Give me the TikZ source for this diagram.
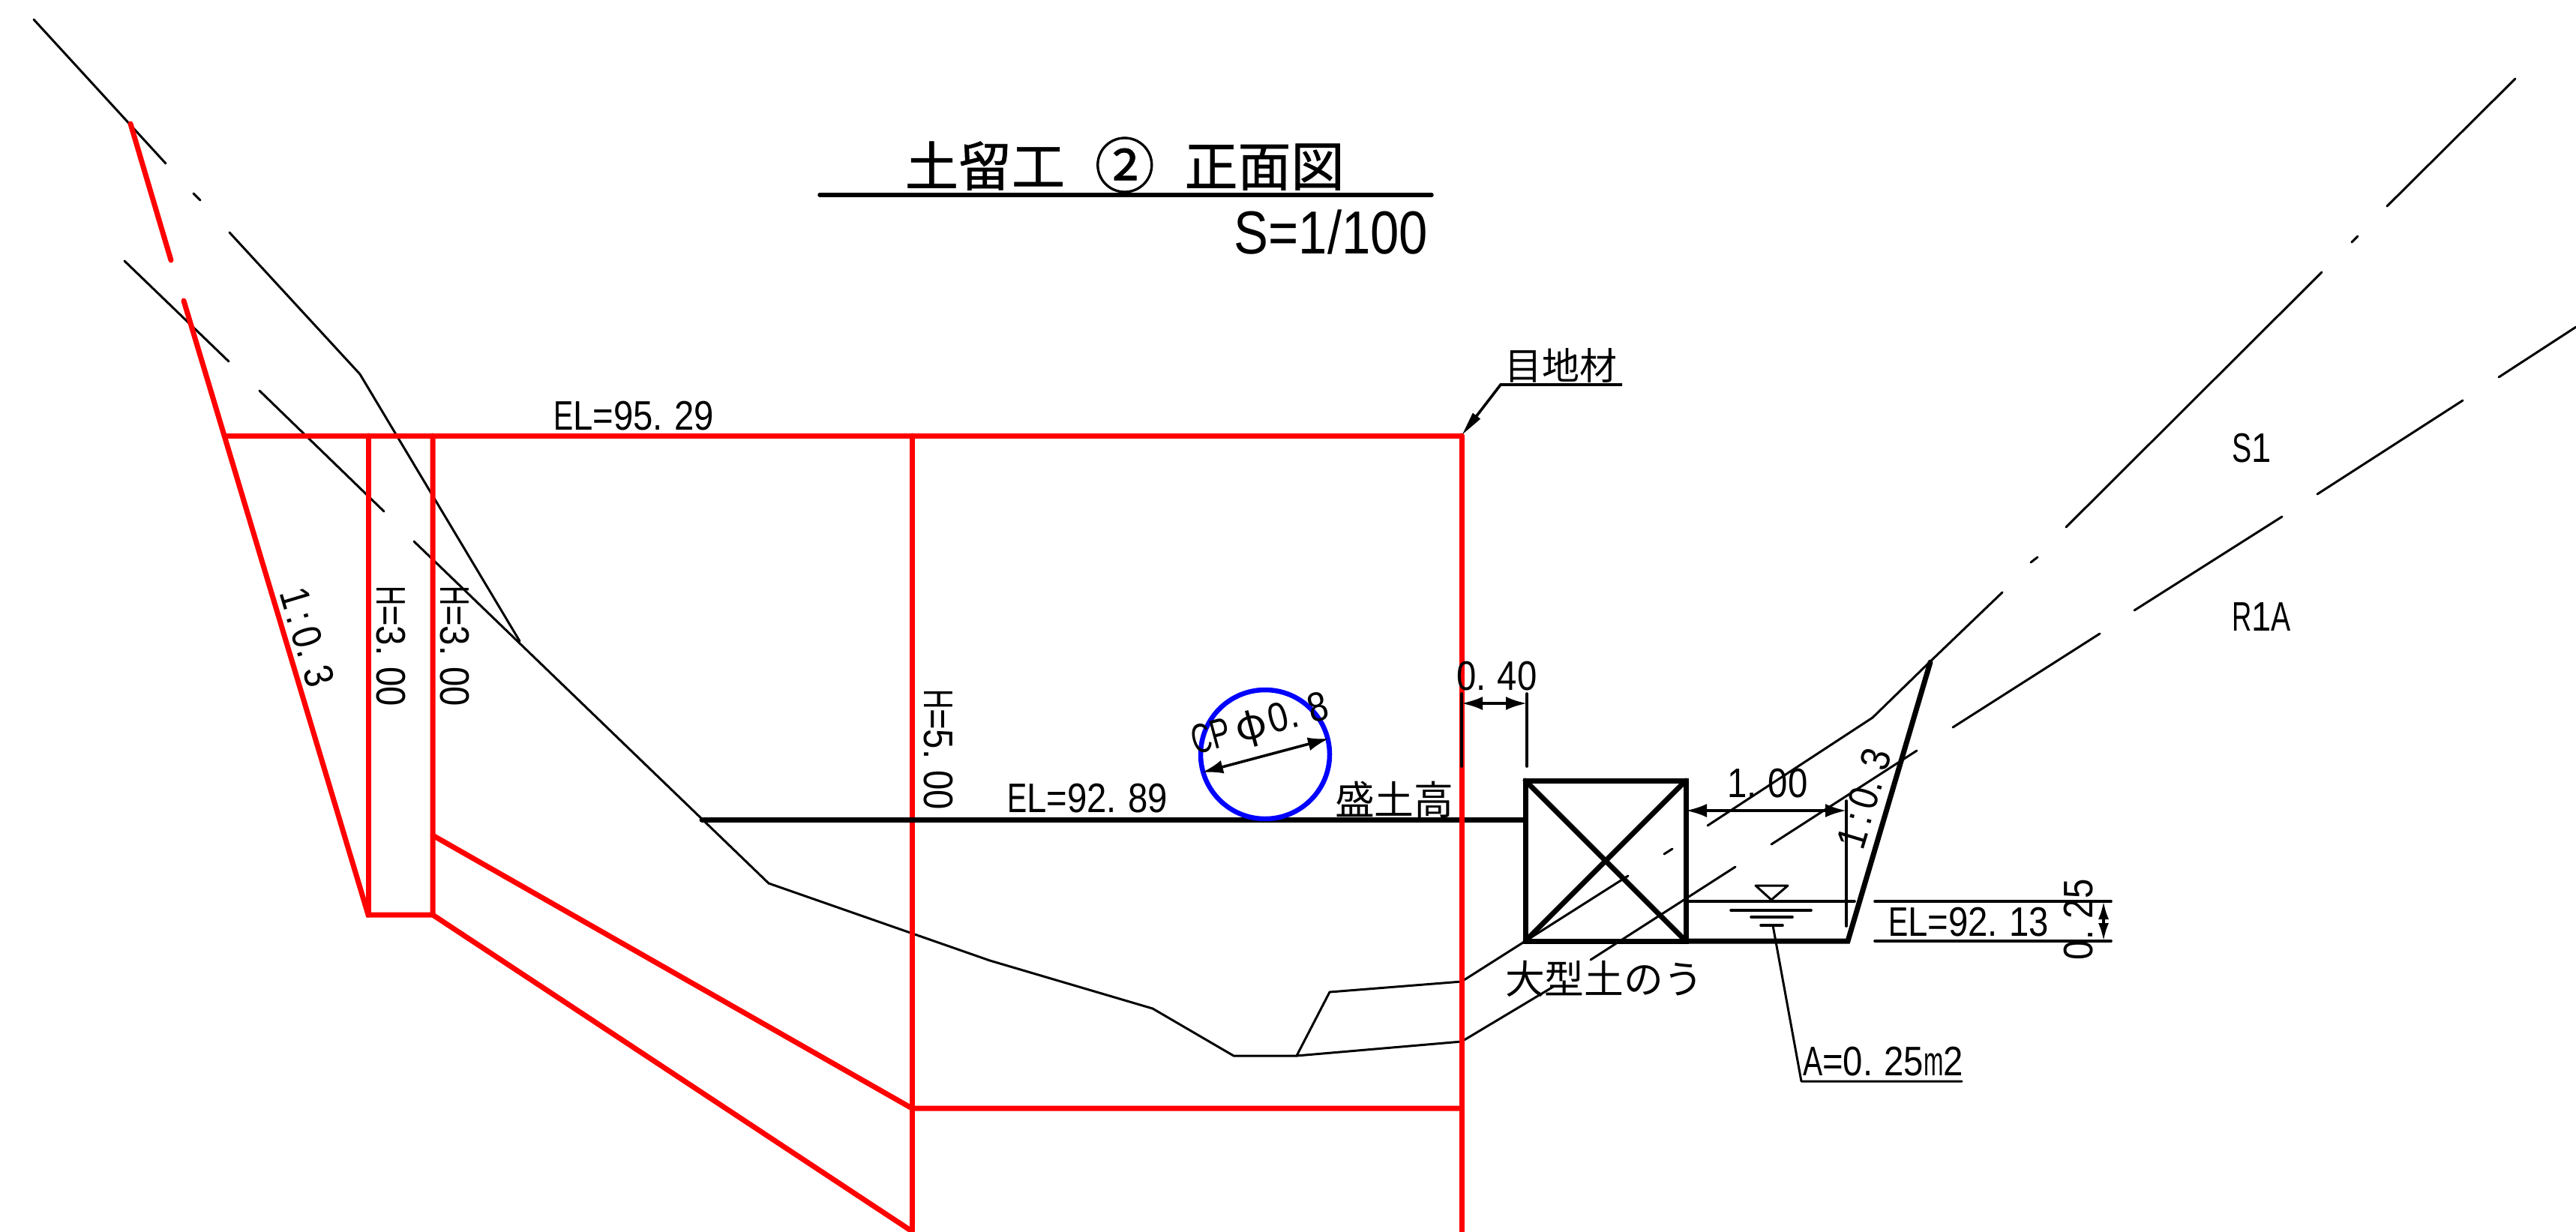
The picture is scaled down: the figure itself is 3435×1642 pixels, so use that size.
\documentclass[tikz,border=0pt]{standalone}
\usepackage{fontspec}
\usepackage{graphicx}
\usepackage{tikz}
\usetikzlibrary{arrows.meta}
\newfontfamily\cadf[FakeStretch=0.86]{Liberation Sans}
\newfontfamily\cadt[FakeStretch=0.85]{Liberation Sans}
\newfontfamily\cjkf{Noto Sans CJK JP}
\newfontfamily\cjkt[FakeBold=0.9]{Noto Sans CJK JP}
\newcommand{\pd}{.\kern.278em\relax}
\newcommand{\cln}{\kern.139em:\kern.139em\relax}
\newcommand{\sq}[2]{\scalebox{#1}[1]{#2}}
\tikzset{
  x=1pt,y=-1pt,
  lbl/.style={font=\cadf\fontsize{55}{60}\selectfont,inner sep=0pt,outer sep=0pt,anchor=base west},
  lblj/.style={font=\cjkf\fontsize{52.8}{60}\selectfont,inner sep=0pt,outer sep=0pt,anchor=base west},
  thinl/.style={draw=black,line width=3pt,line cap=round,line join=round},
  medl/.style={draw=black,line width=3.6pt,line cap=round,line join=round},
  thickl/.style={draw=black,line width=7pt,line cap=round,line join=miter},
  redl/.style={draw=red,line width=7pt,line cap=round,line join=miter},
  bluel/.style={draw=blue,line width=6.5pt},
  dimarr/.style={draw=black,line width=3.6pt,{Latex[length=28pt,width=18pt]}-{Latex[length=28pt,width=18pt]}},
  dimarrs/.style={draw=black,line width=3.6pt,{Latex[length=24pt,width=14pt]}-{Latex[length=24pt,width=14pt]}},
  leadarr/.style={draw=black,line width=3.6pt,-{Stealth[inset=0pt,length=32pt,width=12pt]}}
}
\begin{document}
\begin{tikzpicture}
\useasboundingbox (0,0) rectangle (3435,1642);
% ground lines, left
\path[thinl] (45,26) -- (221,218);
\path[thinl] (258,258) -- (267,267);
\path[thinl] (306,310) -- (480,499) -- (693,855);
\path[thinl] (166,348) -- (305,482);
\path[thinl] (346,521) -- (512,682);
\path[thinl] (552,722) -- (1025,1178) -- (1320,1281) -- (1537,1345) -- (1645,1408) -- (1729,1408) -- (1773,1323) -- (1949,1309) -- (2034,1255);
\path[thinl] (1729,1408) -- (1949,1389) -- (2071,1316);
\path[thinl] (2121,1280) -- (2314,1156);
\path[thinl] (2362,1126) -- (2556,1001);
\path[thinl] (2604,970) -- (2800,845);
\path[thinl] (2846,814) -- (3043,689);
\path[thinl] (3090,659) -- (3284,534);
\path[thinl] (3332,503) -- (3435,436);
\path[thinl] (2034,1255) -- (2171,1168);
\path[thinl] (2219,1139) -- (2230,1132);
\path[thinl] (2277,1101) -- (2497,957) -- (2573,883) -- (2670,790);
\path[thinl] (2708,750) -- (2717,743);
\path[thinl] (2755,703) -- (3096,363);
\path[thinl] (3136,323) -- (3144,315);
\path[thinl] (3183,275) -- (3354,105);
% red retaining wall
\path[redl] (174,165) -- (228,347);
\path[redl] (245,401) -- (491,1220) -- (577,1220) -- (577,581);
\path[redl] (300,581) -- (1949,581);
\path[redl] (491,581) -- (491,1220);
\path[redl] (577,1114) -- (1216,1478) -- (1949,1478);
\path[redl] (577,1220) -- (1216,1642);
\path[redl] (1216,581) -- (1216,1642);
% embankment level
\path[thickl] (936,1093) -- (2034,1093);
\path[redl] (1949,581) -- (1949,1642);
% pipe
\node[circle,bluel,minimum size=172pt,inner sep=0pt] (pipe) at (1687,1006) {};
\path[dimarr] (1603,1030) -- (1772,985);
% sandbag box
\path[thickl] (2034,1041) rectangle (2248,1255);
\path[thickl] (2034,1255) -- (2248,1041);
\path[thickl] (2034,1041) -- (2248,1255);
\path[thickl] (2248,1255) -- (2464,1255) -- (2574,883);
% water
\path[medl] (2248,1202) -- (2473,1202);
\path[thinl] (2341,1181) -- (2384,1181) -- (2362,1200) -- cycle;
\path[medl] (2308,1214) -- (2415,1214);
\path[medl] (2335,1223) -- (2390,1223);
\path[medl] (2348,1234) -- (2377,1234);
\path[thinl] (2364,1234) -- (2402,1442) -- (2616,1442);
% dimensions
\path[medl] (1949,925) -- (1949,1022);
\path[medl] (2036,925) -- (2036,1022);
\path[dimarr] (1949,938) -- (2036,938);
\path[medl] (2462,1068) -- (2462,1235);
\path[dimarr] (2248,1081) -- (2462,1081);
\path[medl] (2500,1202) -- (2815,1202);
\path[medl] (2500,1255) -- (2815,1255);
\path[dimarrs] (2805,1202) -- (2805,1255);
% title
\path[draw=black,line width=5.5pt,line cap=round] (1093,260) -- (1909,260);
\path[leadarr] (2163,513) -- (2001,513) -- (1949.5,580);
\node[lblj,font=\cjkt\fontsize{71}{80}\selectfont] (title) at (1207,248) {土留工\hspace{.56em}{\fontsize{80}{90}\selectfont\raisebox{-.03em}{②}}\hspace{.56em}正面図};
\node[lbl,font=\cadt\fontsize{81}{90}\selectfont,anchor=base east] (scale) at (1904,338) {S=1/100};
\node[lblj,font=\cjkf\fontsize{50}{60}\selectfont] (joint) at (2006,506) {目地材};
\node[lbl] (el1) at (738,573) {\sq{.83}{E}L=95\pd 29};
\node[lbl] (el2) at (1343,1083) {\sq{.83}{E}L=92\pd 89};
\node[lbl] (el3) at (2518,1248) {\sq{.83}{E}L=92\pd 13};
\node[lblj] (mori) at (1780,1086) {盛土高};
\node[lblj] (bag) at (2007,1325) {大型土のう};
\node[lbl] (d40) at (1942,920) {0\pd 40};
\node[lbl] (d100) at (2303,1063) {1\pd 00};
\node[lbl] (area) at (2404,1434) {\sq{.83}{A}=0\pd 25\sq{.67}{m}2};
\node[lbl] (s1) at (2976,616) {\sq{.83}{S}1};
\node[lbl] (r1a) at (2976,841) {\sq{.77}{R}1\sq{.83}{A}};
\node[lbl,rotate=90] (d25) at (2790,1280) {0\pd 25};
\node[lbl,rotate=-90] (h1) at (502,781) {\sq{.77}{H}=3\pd 00};
\node[lbl,rotate=-90] (h2) at (587,781) {\sq{.77}{H}=3\pd 00};
\node[lbl,rotate=-90] (h3) at (1232,919) {\sq{.77}{H}=5\pd 00};
\node[lbl,rotate=-73.3] (sl1) at (372,790) {1\cln 0\pd 3};
\node[lbl,rotate=73.3] (sl2) at (2484,1135) {1\cln 0\pd 3};
\node[lbl,rotate=15] (cp) at (1594,1006) {\sq{.77}{C}\sq{.83}{P}\kern8pt{\cjkf φ}\kern4pt 0\pd 8};
\end{tikzpicture}
\end{document}
